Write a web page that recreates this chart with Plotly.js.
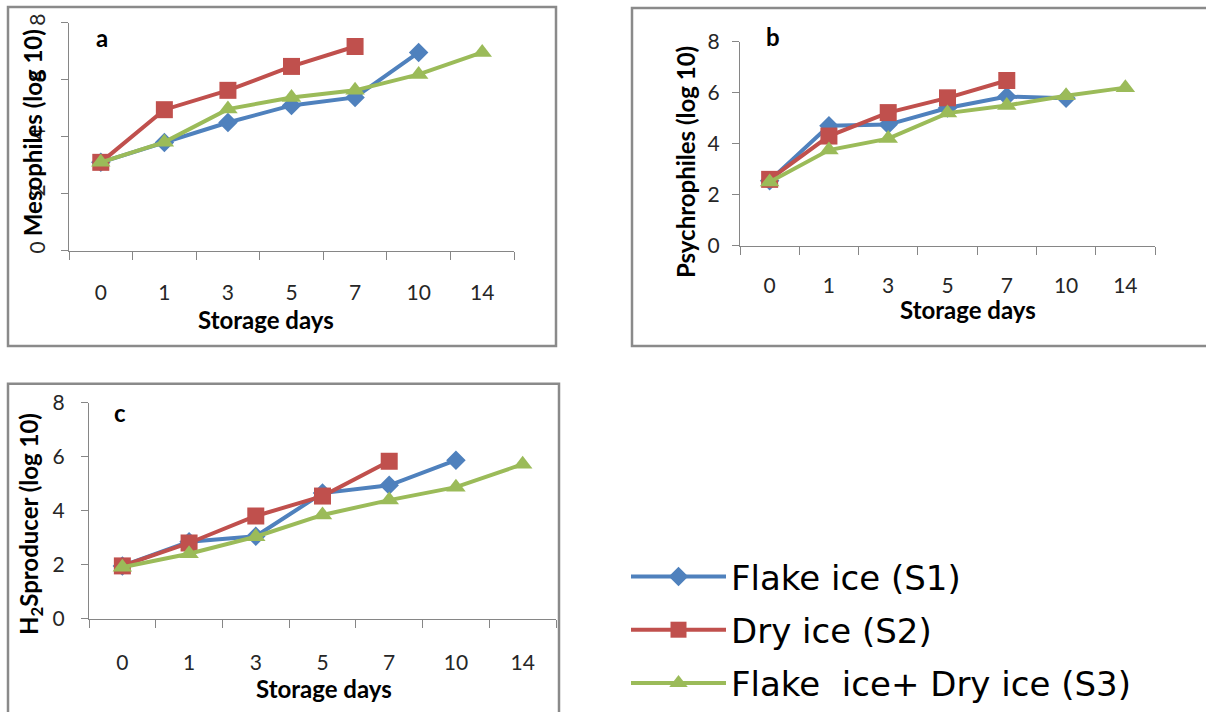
<!DOCTYPE html>
<html>
<head>
<meta charset="utf-8">
<script src="https://cdn.plot.ly/plotly-3.0.1.min.js"></script>
<style>html,body{margin:0;padding:0;background:#fff;}#chart{width:1206px;height:712px;}</style>
</head>
<body>
<div id="chart"></div>
<script>
// ---- data ----
const days = ['0', '1', '3', '5', '7', '10', '14'];
const seriesNames = ['Flake ice (S1)', 'Dry ice (S2)', 'Flake  ice+ Dry ice (S3)'];
// a: Mesophiles (log 10)
const mesoS1 = [3.1, 3.8, 4.5, 5.1, 5.38, 6.96, null];
const mesoS2 = [3.1, 4.95, 5.63, 6.47, 7.17, null, null];
const mesoS3 = [3.1, 3.81, 4.97, 5.38, 5.63, 6.19, 6.96];
// b: Psychrophiles (log 10)
const psyS1 = [2.55, 4.7, 4.75, 5.4, 5.85, 5.78, null];
const psyS2 = [2.6, 4.3, 5.22, 5.8, 6.48, null, null];
const psyS3 = [2.5, 3.75, 4.2, 5.2, 5.5, 5.88, 6.2];
// c: H2S producer (log 10)
const h2sS1 = [1.95, 2.85, 3.05, 4.65, 4.94, 5.87, null];
const h2sS2 = [1.95, 2.8, 3.8, 4.54, 5.83, null, null];
const h2sS3 = [1.9, 2.4, 3.03, 3.84, 4.39, 4.87, 5.72];
const yTicks = [0, 2, 4, 6, 8];

// ---- style ----
const W = 1206, H = 712;
const px = v => v / W;
const py = v => 1 - v / H;
const colors = ['#4F81BD', '#C0504D', '#9BBB59'];
const symbols = ['diamond', 'square', 'triangle-up'];
const msizes = [15, 17, 17];
const axisColor = '#868686';
const tickFont = {family: 'Lato, "Liberation Sans", sans-serif', size: 21, color: '#262626'};
const titleFont = {family: 'Lato, "Liberation Sans", sans-serif', size: 24, color: '#000'};

const panels = [
  {xa: 'x', ya: 'y', sets: [mesoS1, mesoS2, mesoS3], legend: true},
  {xa: 'x2', ya: 'y2', sets: [psyS1, psyS2, psyS3], legend: false},
  {xa: 'x3', ya: 'y3', sets: [h2sS1, h2sS2, h2sS3], legend: false}
];

const traces = [];
panels.forEach(p => {
  p.sets.forEach((vals, i) => {
    traces.push({
      type: 'scatter', mode: 'lines+markers',
      x: days, y: vals, xaxis: p.xa, yaxis: p.ya,
      name: seriesNames[i], showlegend: p.legend,
      legendgroup: 'g' + i,
      line: {color: colors[i], width: 4},
      marker: {symbol: symbols[i], size: msizes[i], color: colors[i]},
      connectgaps: false, cliponaxis: false
    });
  });
});

function xAxis(domain, standoff) {
  return {
    domain: domain, type: 'category', categoryorder: 'array', categoryarray: days,
    range: [-0.5, 6.5], tickson: 'boundaries', ticks: 'outside', ticklen: 8,
    tickcolor: axisColor, showline: true, linecolor: axisColor, linewidth: 1,
    showgrid: false, zeroline: false, tickfont: tickFont, ticklabelstandoff: standoff,
    fixedrange: true
  };
}
function yAxis(domain, anchor, standoff, angle) {
  return {
    domain: domain, anchor: anchor, range: [0, 8], tickvals: yTicks, ticks: 'outside', ticklen: 7,
    tickcolor: axisColor, showline: true, linecolor: axisColor, linewidth: 1,
    showgrid: false, zeroline: false, tickfont: tickFont, ticklabelstandoff: standoff,
    tickangle: angle, fixedrange: true
  };
}

function note(text, x, y, angle) {
  return {text: text, x: px(x), y: py(y), xref: 'paper', yref: 'paper', showarrow: false,
          xanchor: 'center', yanchor: 'middle', textangle: angle || 0, font: titleFont};
}

const layout = {
  width: W, height: H, margin: {l: 0, r: 0, t: 0, b: 0},
  paper_bgcolor: '#fff', plot_bgcolor: 'rgba(0,0,0,0)',
  showlegend: true,
  xaxis: Object.assign(xAxis([px(69), px(514)], 23), {anchor: 'y'}),
  yaxis: yAxis([py(252), py(23)], 'x', 8, -90),
  xaxis2: Object.assign(xAxis([px(740), px(1155)], 21), {anchor: 'y2'}),
  yaxis2: yAxis([py(247), py(42)], 'x2', 8, 0),
  xaxis3: Object.assign(xAxis([px(89), px(556)], 25), {anchor: 'y3'}),
  yaxis3: yAxis([py(622), py(405)], 'x3', 12, 0),
  legend: {
    x: px(626), y: py(551), xanchor: 'left', yanchor: 'top',
    traceorder: 'grouped', tracegroupgap: 6,
    font: {family: '"DejaVu Sans", Verdana, sans-serif', size: 34, color: '#000'},
    bgcolor: 'rgba(0,0,0,0)', itemwidth: 95
  },
  shapes: [
    {type: 'rect', xref: 'paper', yref: 'paper', x0: px(8), x1: px(556), y0: py(348), y1: py(7), line: {color: '#8a8a8a', width: 2.5}},
    {type: 'rect', xref: 'paper', yref: 'paper', x0: px(632), x1: px(1215), y0: py(348), y1: py(8), line: {color: '#8a8a8a', width: 2.5}},
    {type: 'rect', xref: 'paper', yref: 'paper', x0: px(8), x1: px(559), y0: py(720), y1: py(386), line: {color: '#8a8a8a', width: 2.5}}
  ],
  annotations: [
    note('<b>a</b>', 102, 38),
    note('<b>b</b>', 773, 37),
    note('<b>c</b>', 120, 415),
    note('<b>Storage days</b>', 266, 321),
    note('<b>Storage days</b>', 968, 311),
    note('<b>Storage days</b>', 324, 692),
    note('<b>Mesophiles (log 10)</b>', 32, 134, -90),
    note('<b>Psychrophiles (log 10)</b>', 685, 163, -90),
    note('<b>H<sub>2</sub>Sproducer (log 10)</b>', 30, 527, -90)
  ]
};

Plotly.newPlot('chart', traces, layout, {staticPlot: true, displayModeBar: false});
</script>
</body>
</html>
